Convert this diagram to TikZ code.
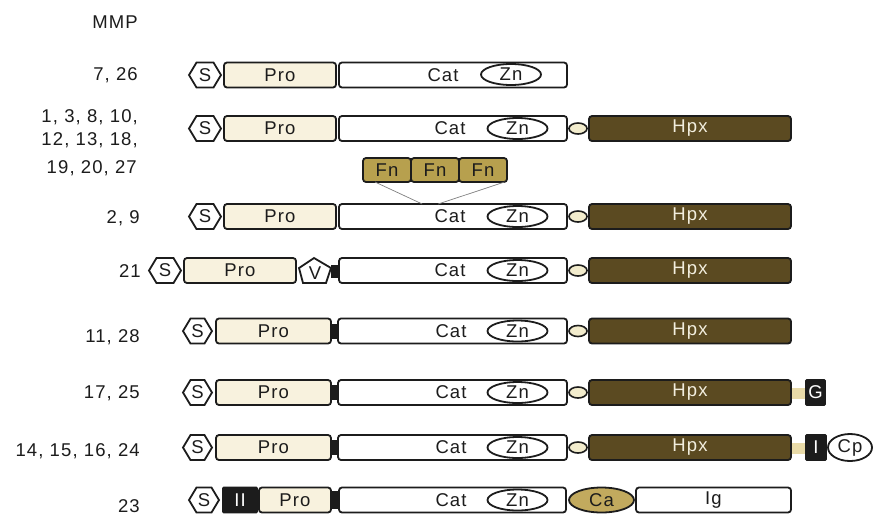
\documentclass[tikz,border=0pt]{standalone}
\usepackage{fontspec}
\setmainfont[LetterSpace=6]{Liberation Sans}
\usetikzlibrary{shapes.geometric,calc}
\definecolor{olin}{RGB}{28,28,28}
\definecolor{procol}{RGB}{248,242,222}
\definecolor{hpxcol}{RGB}{91,74,33}
\definecolor{hpxtxt}{RGB}{242,238,222}
\definecolor{fncol}{RGB}{183,160,78}
\definecolor{cacol}{RGB}{194,170,94}
\definecolor{linkcol}{RGB}{242,236,205}
\definecolor{tancol}{RGB}{232,218,168}
\newcommand\domfont{\fontsize{18.5}{18.5}\selectfont}
\newcommand\labfont{\fontsize{18.5}{18.5}\selectfont}
\newcommand\hexS[4]{% name, x0, x1, yc
  \draw[hexline] (#2,#4) -- (#2+7.5,#4-12.5) -- (#3-7.5,#4-12.5) -- (#3,#4) -- (#3-7.5,#4+12.5) -- (#2+7.5,#4+12.5) -- cycle;
  \node[txt] (#1) at ({(#2+#3)/2},#4) {S};}
\tikzset{
  dombox/.style={draw=olin, line width=1.8pt, rounded corners=3pt, minimum height=25pt, inner sep=0pt, outer sep=0pt, font=\domfont, text=olin},
  probox/.style={dombox, fill=procol},
  catbox/.style={dombox, fill=white},
  hpxbox/.style={dombox, fill=hpxcol, minimum width=202pt, text=hpxtxt},
  blackbox/.style={dombox, fill=olin, text=white},
  hexline/.style={draw=olin, fill=white, line width=1.8pt, line join=miter},
  txt/.style={font=\domfont, text=olin, inner sep=0pt},
  znell/.style={ellipse, draw=olin, fill=white, line width=1.8pt, minimum width=60pt, minimum height=21pt, inner sep=0pt, font=\domfont, text=olin},
  linkell/.style={ellipse, draw=olin, fill=linkcol, line width=1.6pt, minimum width=18pt, minimum height=11pt, inner sep=0pt},
  barbox/.style={fill=olin, draw=none, minimum width=7pt, minimum height=15pt, inner sep=0pt},
  tanbox/.style={fill=tancol, draw=none, minimum width=13pt, minimum height=11pt, inner sep=0pt},
  fnbox/.style={dombox, fill=fncol, minimum width=48pt, minimum height=24pt},
  fnline/.style={draw=gray, line width=0.7pt},
  lab/.style={anchor=base east, font=\labfont, text=olin, inner sep=0pt}
}
\begin{document}
\begin{tikzpicture}[x=1pt,y=-1pt]
\useasboundingbox (0,0) rectangle (875,515);
\fill[white] (0,0) rectangle (875,515);

% labels
\node[lab] (lmmp) at (138,28) {MMP};
\node[lab] (l1) at (138,80) {7, 26};
\node[lab] (l2a) at (138,122) {1, 3, 8, 10,};
\node[lab] (l2b) at (138,145) {12, 13, 18,};
\node[lab] (l2c) at (137,173) {19, 20, 27};
\node[lab] (l3) at (140,223) {2, 9};
\node[lab] (l4) at (141,277) {21};
\node[lab] (l5) at (140,342) {11, 28};
\node[lab] (l6) at (140,398) {17, 25};
\node[lab] (l7) at (140,456) {14, 15, 16, 24};
\node[lab] (l8) at (140,512) {23};

% row 1 : 7, 26
\hexS{s1}{189}{221}{75}
\node[probox, minimum width=112pt] (pro1) at (280,75) {Pro};
\node[catbox, minimum width=228pt] (cat1) at (453,75) {};
\node[txt] (cat1t) at (443,75) {Cat};
\node[znell] (zn1) at (511,74.5) {Zn};

% row 2
\hexS{s2}{189}{221}{128.5}
\node[probox, minimum width=112pt] (pro2) at (280,128.5) {Pro};
\node[catbox, minimum width=228pt] (cat2) at (453,128.5) {};
\node[txt] (cat2t) at (450,128.5) {Cat};
\node[znell] (zn2) at (517.5,128.5) {Zn};
\node[hpxbox] (hpx2) at (690,128.5) {Hpx};
\node[linkell] (lk2) at (578,128.5) {};

% row 3 : 2, 9 with Fn
\hexS{s3}{189}{221}{216.5}
\node[probox, minimum width=112pt] (pro3) at (280,216.5) {Pro};
\node[catbox, minimum width=228pt] (cat3) at (453,216.5) {};
\node[txt] (cat3t) at (450,216.5) {Cat};
\node[znell] (zn3) at (517.5,216.5) {Zn};
\node[hpxbox] (hpx3) at (690,216.5) {Hpx};
\node[linkell] (lk3) at (578,216.5) {};
\node[fnbox] (fn1) at (387,170) {Fn};
\node[fnbox] (fn2) at (435,170) {Fn};
\node[fnbox] (fn3) at (483,170) {Fn};
\draw[fnline] ($(fn1.south west)!0.25!(fn1.south east)$) -- ($(cat3.north west)!0.365!(cat3.north east)$);
\draw[fnline] ($(fn3.south west)!0.95!(fn3.south east)$) -- ($(cat3.north west)!0.435!(cat3.north east)$);

% row 4 : 21
\hexS{s4}{149}{181}{270.5}
\node[probox, minimum width=112pt] (pro4) at (240,270.5) {Pro};
\draw[hexline] (314,258) -- (331,268) -- (326,283) -- (303,283) -- (299,268) -- cycle;
\node[txt] (v4) at (315,273) {V};
\node[barbox, minimum height=13pt] (bar4) at (334,271.5) {};
\node[catbox, minimum width=228pt] (cat4) at (453,270.5) {};
\node[txt] (cat4t) at (450,270.5) {Cat};
\node[znell] (zn4) at (517.5,270.5) {Zn};
\node[hpxbox] (hpx4) at (690,270.5) {Hpx};
\node[linkell] (lk4) at (578,270.5) {};

% row 5 : 11, 28
\hexS{s5}{183}{212}{331}
\node[probox, minimum width=115pt] (pro5) at (273.5,331) {Pro};
\node[barbox] (bar5) at (334.5,331) {};
\node[catbox, minimum width=229pt] (cat5) at (452.5,331) {};
\node[txt] (cat5t) at (451,331) {Cat};
\node[znell] (zn5) at (517.5,331) {Zn};
\node[hpxbox] (hpx5) at (690,331) {Hpx};
\node[linkell] (lk5) at (578,331) {};

% row 6 : 17, 25
\hexS{s6}{183}{212}{392.5}
\node[probox, minimum width=115pt] (pro6) at (273.5,392.5) {Pro};
\node[barbox] (bar6) at (334.5,392.5) {};
\node[catbox, minimum width=229pt] (cat6) at (452.5,392.5) {};
\node[txt] (cat6t) at (451,392.5) {Cat};
\node[znell] (zn6) at (517.5,392.5) {Zn};
\node[tanbox] (tn6) at (798.5,393.5) {};
\node[hpxbox] (hpx6) at (690,392.5) {Hpx};
\node[linkell] (lk6) at (578,392.5) {};
\node[blackbox, minimum width=19pt, rounded corners=1pt] (g6) at (815.5,392.5) {G};

% row 7 : 14, 15, 16, 24
\hexS{s7}{183}{212}{447.5}
\node[probox, minimum width=115pt] (pro7) at (273.5,447.5) {Pro};
\node[barbox] (bar7) at (334.5,447.5) {};
\node[catbox, minimum width=229pt] (cat7) at (452.5,447.5) {};
\node[txt] (cat7t) at (451,447.5) {Cat};
\node[znell] (zn7) at (517.5,447.5) {Zn};
\node[tanbox] (tn7) at (798.5,448) {};
\node[hpxbox] (hpx7) at (690,447.5) {Hpx};
\node[linkell] (lk7) at (578,447.5) {};
\node[blackbox, minimum width=20pt, rounded corners=1pt] (i7) at (816,447.5) {I};
\node[znell, minimum width=44pt, minimum height=27pt] (cp7) at (850,447.5) {Cp};

% row 8 : 23
\hexS{s8}{189}{219}{500}
\node[blackbox, minimum width=34pt, rounded corners=1pt] (ii8) at (240,500) {II};
\node[probox, minimum width=72pt] (pro8) at (295,500) {Pro};
\node[barbox, minimum height=18pt] (bar8) at (334.5,500) {};
\node[catbox, minimum width=227pt] (cat8) at (452.5,500) {};
\node[txt] (cat8t) at (451,500) {Cat};
\node[znell] (zn8) at (517.5,500) {Zn};
\node[catbox, minimum width=155pt] (ig8) at (713.5,500) {Ig};
\node[znell, fill=cacol, minimum width=65pt, minimum height=25pt] (ca8) at (601.5,500) {Ca};
\end{tikzpicture}
\end{document}
